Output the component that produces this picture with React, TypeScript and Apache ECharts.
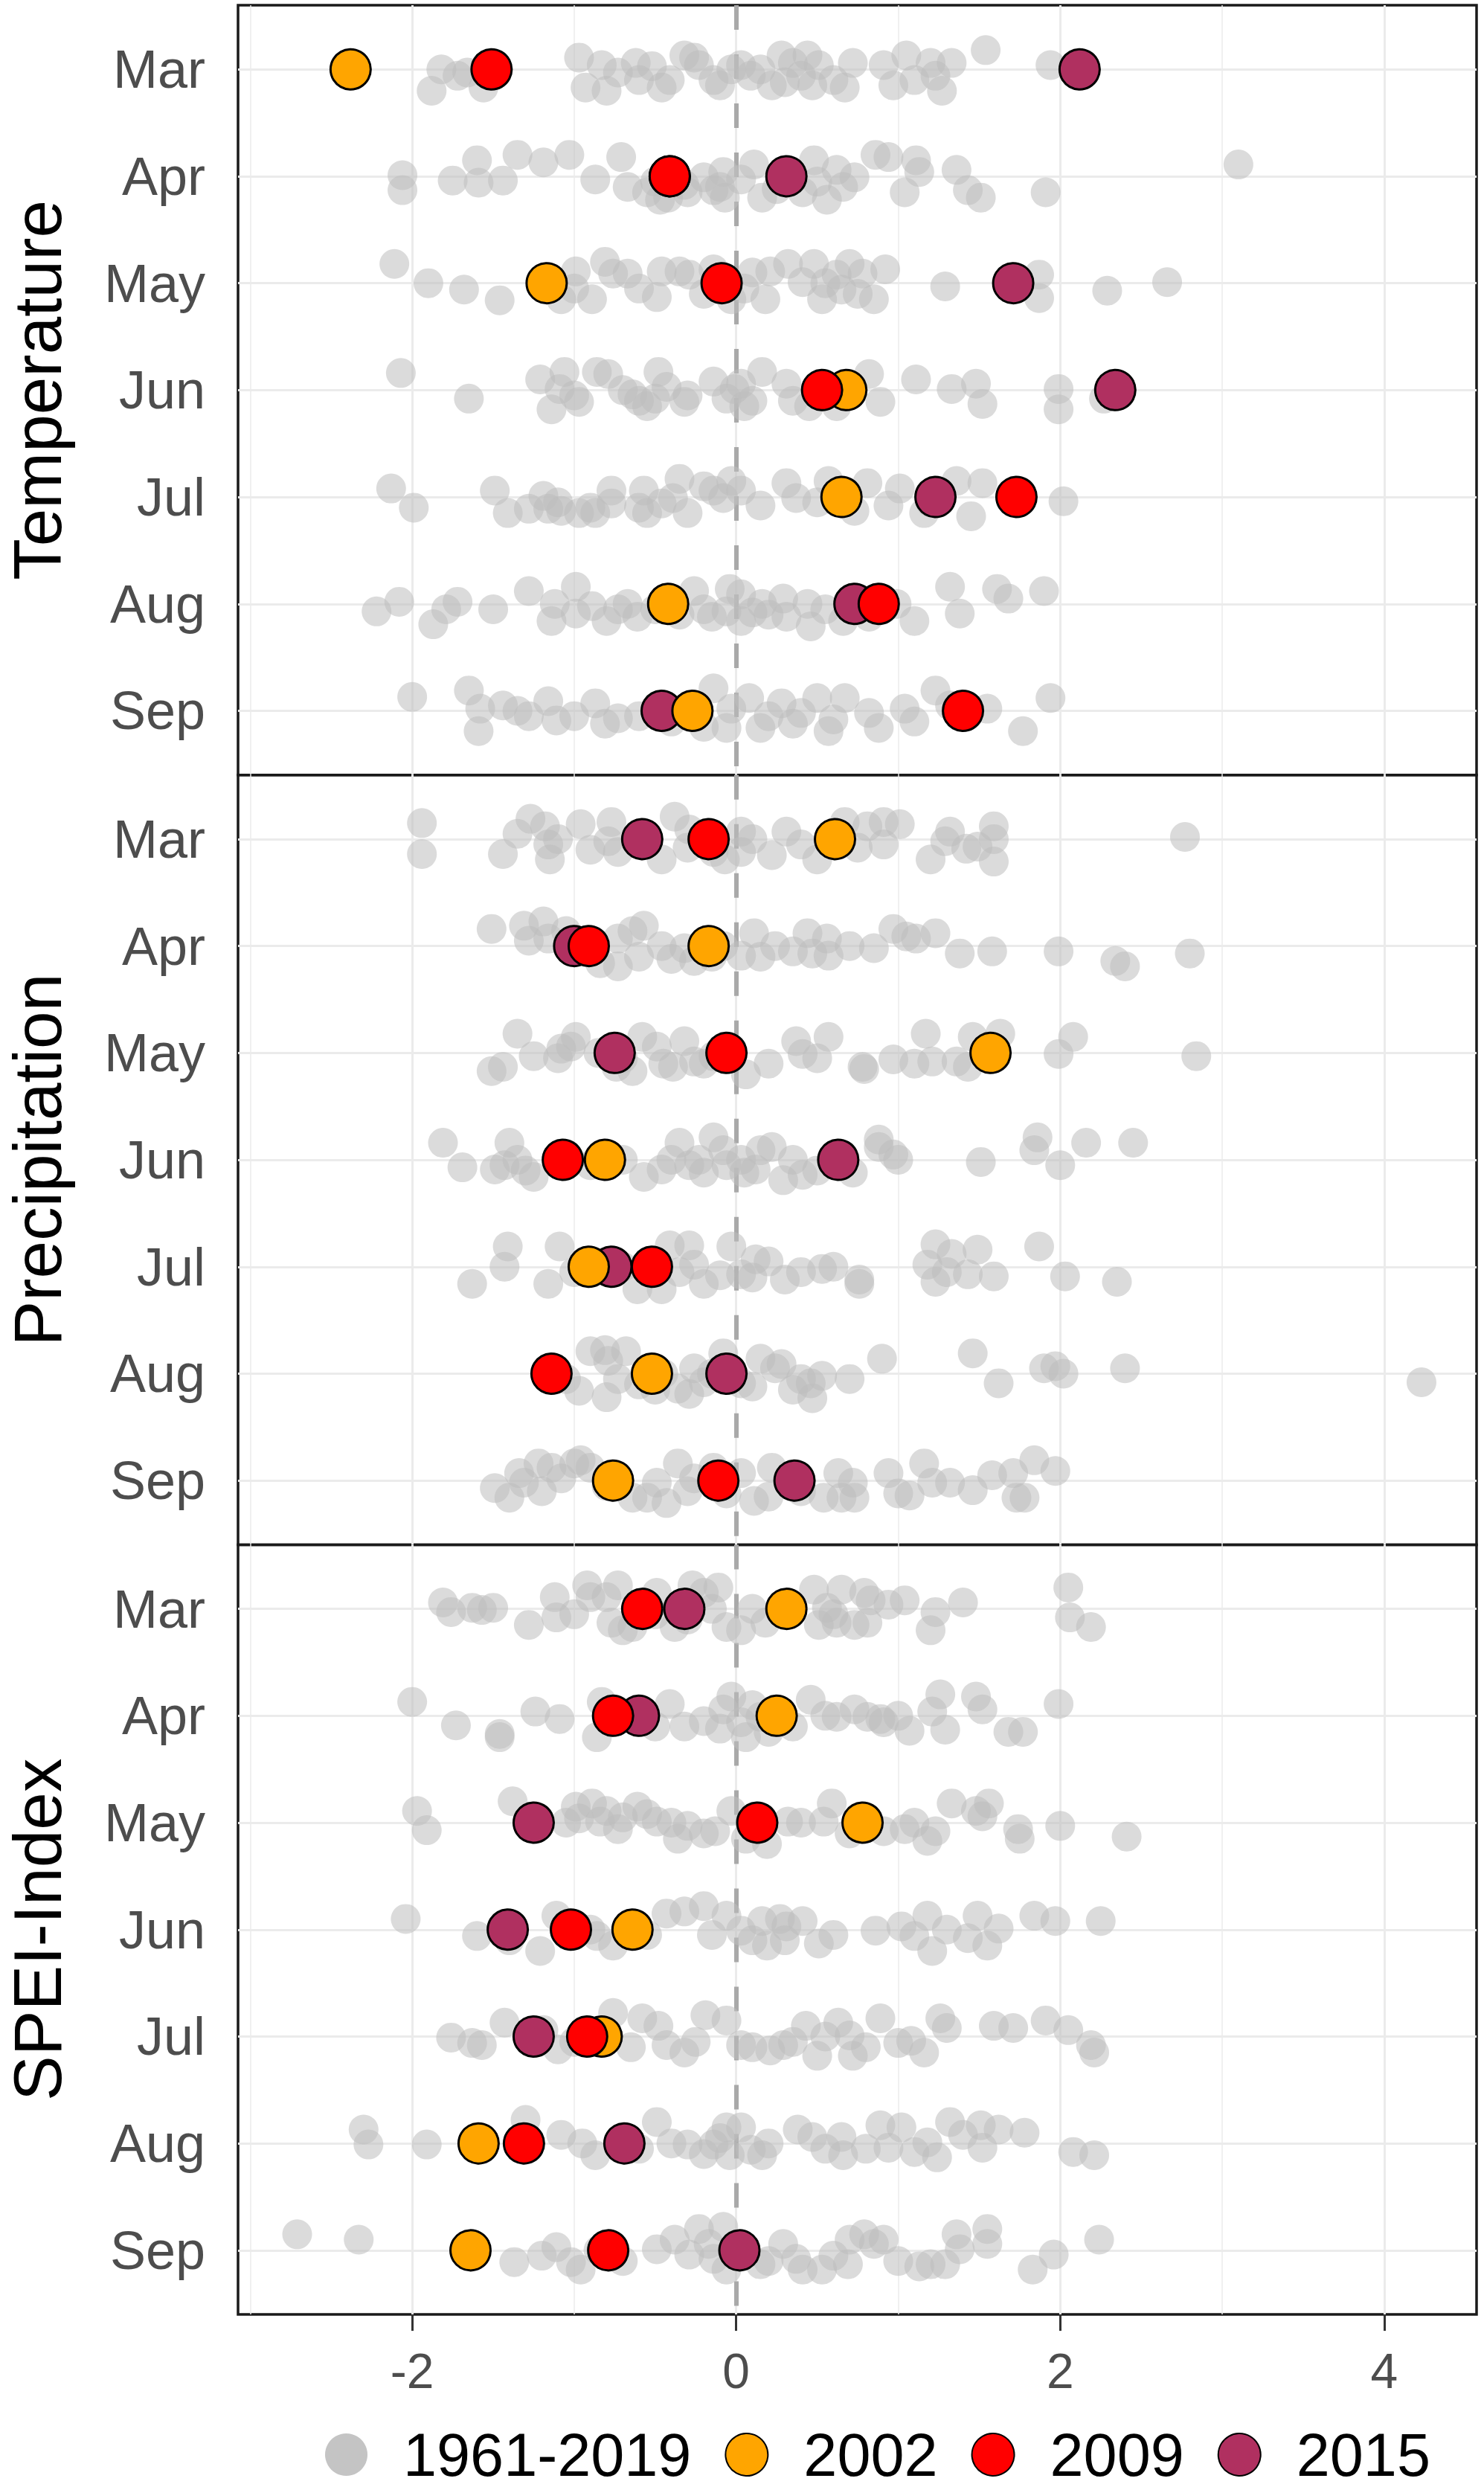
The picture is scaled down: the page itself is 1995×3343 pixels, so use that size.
import React, { useEffect, useRef } from "react";
import * as echarts from "echarts";

const months = ["Mar", "Apr", "May", "Jun", "Jul", "Aug", "Sep"];
const panelNames = ["Temperature", "Precipitation", "SPEI-Index"];
const xTicks = [-2, 0, 2, 4];
const xMinor = [-3, -1, 1, 3];
const legendNames = ["1961-2019", "2002", "2009", "2015"];

// grey points: per month rows of [value, vertical jitter]
const tempGrey = [
  [[-1.88,0.2],[-1.82,0.0],[-1.72,0.06],[-1.66,0.03],[-1.56,0.17],[-0.97,-0.11],[-0.93,0.17],[-0.83,-0.04],[-0.80,0.2],[-0.73,0.03],[-0.62,-0.06],[-0.60,0.1],[-0.52,-0.03],[-0.46,0.17],[-0.41,0.1],[-0.32,-0.13],[-0.26,-0.11],[-0.23,-0.04],[-0.14,0.1],[-0.03,0.0],[0.03,-0.04],[0.09,0.06],[0.22,0.15],[0.28,-0.13],[0.35,-0.06],[0.40,0.06],[0.44,-0.13],[0.47,0.15],[0.51,-0.04],[0.67,0.17],[0.72,-0.06],[0.91,-0.04],[0.97,0.15],[1.05,-0.13],[1.20,-0.06],[1.23,0.06],[1.27,0.2],[1.33,-0.06],[1.54,-0.18],[1.94,-0.04],[0.15,0.0],[0.6,0.1],[-0.1,0.15],[0.3,0.12],[1.1,0.1]],
  [[-2.06,-0.01],[-2.06,0.13],[-1.75,0.04],[-1.60,-0.15],[-1.59,0.06],[-1.44,0.04],[-1.35,-0.2],[-1.19,-0.13],[-1.03,-0.2],[-0.87,0.03],[-0.71,-0.18],[-0.67,0.1],[-0.55,0.15],[-0.47,0.22],[-0.42,0.2],[-0.32,0.08],[-0.20,0.01],[-0.14,0.13],[-0.08,-0.04],[-0.07,0.2],[0.03,0.03],[0.11,-0.11],[0.16,0.2],[0.41,0.15],[0.48,-0.15],[0.56,0.22],[0.62,-0.06],[0.66,0.1],[0.73,0.01],[0.86,-0.2],[0.94,-0.18],[1.04,0.15],[1.11,-0.15],[1.13,-0.04],[1.36,-0.06],[1.43,0.13],[1.51,0.2],[1.91,0.15],[3.10,-0.11],[-0.3,0.15],[-0.1,0.1],[0.25,0.12],[0.5,0.05],[-0.5,0.05]],
  [[-2.11,-0.18],[-1.90,0.0],[-1.68,0.06],[-1.46,0.16],[-1.08,0.15],[-0.99,-0.11],[-0.89,0.15],[-0.81,-0.2],[-0.76,-0.09],[-0.67,-0.09],[-0.49,0.13],[-0.46,-0.11],[-0.35,-0.11],[-0.29,-0.08],[-0.14,-0.13],[-0.03,0.15],[0.18,0.15],[0.21,-0.11],[0.32,-0.18],[0.41,-0.01],[0.48,-0.18],[0.53,0.15],[0.62,-0.08],[0.65,0.06],[0.70,-0.18],[0.78,-0.09],[0.85,0.15],[0.92,-0.13],[1.29,0.03],[1.87,-0.08],[1.87,0.14],[2.29,0.07],[2.66,-0.01],[-0.6,0.05],[-0.2,0.1],[0.05,0.05],[0.55,0.0],[0.75,0.1],[-1.0,0.05],[0.1,-0.1]],
  [[-2.07,-0.16],[-1.65,0.08],[-1.21,-0.1],[-1.14,0.18],[-1.09,-0.01],[-1.06,-0.17],[-0.97,0.11],[-0.86,-0.17],[-0.79,-0.15],[-0.64,0.04],[-0.60,0.1],[-0.55,0.15],[-0.48,-0.17],[-0.43,-0.03],[-0.32,0.11],[-0.14,-0.08],[-0.06,0.08],[-0.01,-0.01],[0.03,-0.06],[0.16,-0.17],[0.31,-0.06],[0.45,0.15],[0.62,0.15],[0.82,-0.15],[0.89,0.11],[1.11,-0.1],[1.33,-0.01],[1.48,-0.06],[1.52,0.13],[1.99,-0.01],[1.99,0.18],[2.27,0.08],[-0.7,0.0],[-0.3,0.05],[0.1,0.1],[-1.0,0.05],[0.35,0.1],[-0.5,0.08],[0.05,0.15]],
  [[-2.13,-0.08],[-1.99,0.1],[-1.49,-0.06],[-1.41,0.15],[-1.28,0.11],[-1.19,-0.01],[-1.16,0.11],[-1.08,0.13],[-0.97,0.15],[-0.87,0.15],[-0.77,-0.06],[-0.77,0.06],[-0.57,-0.06],[-0.55,0.15],[-0.46,0.06],[-0.39,0.01],[-0.35,-0.17],[-0.30,0.15],[-0.20,-0.1],[-0.14,-0.06],[-0.08,0.01],[-0.03,-0.15],[0.03,-0.06],[0.15,0.08],[0.31,-0.13],[0.37,0.01],[0.57,-0.15],[0.73,0.13],[0.81,-0.13],[0.94,0.08],[1.01,-0.08],[1.16,0.15],[1.36,-0.15],[1.45,0.18],[1.52,-0.13],[2.02,0.04],[-1.1,0.05],[-0.6,0.1],[0.5,0.05],[1.2,0.05],[-0.9,0.1]],
  [[-2.22,0.07],[-2.08,-0.02],[-1.87,0.19],[-1.79,0.05],[-1.72,-0.02],[-1.50,0.05],[-1.28,-0.12],[-1.14,0.16],[-1.12,0.0],[-0.99,-0.16],[-0.99,0.09],[-0.89,0.02],[-0.80,0.16],[-0.73,0.05],[-0.67,0.0],[-0.61,0.12],[-0.26,-0.12],[-0.20,0.05],[-0.06,0.07],[-0.04,-0.14],[0.03,-0.09],[0.03,0.16],[0.16,0.0],[0.29,-0.05],[0.31,0.12],[0.44,0.0],[0.46,0.21],[0.66,0.16],[0.82,0.12],[0.99,0.0],[1.10,0.16],[1.32,-0.16],[1.38,0.09],[1.61,-0.14],[1.68,-0.05],[1.90,-0.12],[-0.5,0.05],[-0.35,0.1],[0.1,0.08],[0.55,0.05],[-0.15,0.12],[0.2,0.1]],
  [[-2.0,-0.13],[-1.65,-0.19],[-1.59,0.19],[-1.58,-0.02],[-1.44,-0.05],[-1.35,0.0],[-1.28,0.05],[-1.16,-0.09],[-1.11,0.09],[-0.87,-0.07],[-0.81,0.12],[-0.73,0.07],[-0.60,0.05],[-0.40,0.1],[-0.20,0.15],[-0.14,-0.21],[-0.06,0.16],[-0.03,-0.02],[0.08,-0.12],[0.15,0.16],[0.28,-0.07],[0.35,0.12],[0.40,0.02],[0.50,-0.12],[0.57,0.19],[0.67,-0.12],[0.82,0.02],[0.88,0.16],[1.04,-0.02],[1.23,-0.19],[1.32,-0.05],[1.55,-0.02],[1.77,0.19],[1.94,-0.12],[-1.0,0.05],[-0.5,0.0],[0.2,0.05],[0.6,0.08],[1.1,0.1],[-0.3,0.0]],
];

const precGrey = [
  [[-1.94,-0.15],[-1.94,0.14],[-1.44,0.14],[-1.35,-0.05],[-1.27,-0.19],[-1.18,-0.12],[-1.16,0.05],[-1.15,0.19],[-0.96,-0.14],[-0.79,0.02],[-0.77,-0.16],[-0.73,0.12],[-0.46,0.19],[-0.38,-0.21],[-0.29,-0.09],[-0.14,0.12],[-0.07,0.19],[0.03,-0.07],[0.03,0.12],[0.22,0.15],[0.31,-0.07],[0.50,0.19],[0.67,-0.16],[0.81,-0.12],[0.91,-0.16],[0.91,0.05],[1.01,-0.14],[1.20,0.19],[1.29,0.02],[1.32,-0.07],[1.42,0.09],[1.49,0.07],[1.59,-0.12],[1.59,0.21],[1.59,0.0],[2.77,-0.02],[-1.1,0.0],[-0.6,0.05],[-0.3,0.08],[0.1,0.0],[0.4,0.05],[0.75,0.08],[-0.9,0.1]],
  [[-1.51,-0.16],[-1.31,-0.19],[-1.28,-0.05],[-1.19,-0.23],[-1.16,-0.07],[-1.05,-0.14],[-0.84,0.16],[-0.73,0.19],[-0.73,-0.07],[-0.64,-0.14],[-0.57,-0.19],[-0.46,0.0],[-0.32,0.02],[-0.26,0.14],[-0.08,0.0],[0.03,0.09],[0.11,-0.12],[0.24,0.0],[0.44,-0.12],[0.47,0.07],[0.56,-0.07],[0.57,0.09],[0.85,0.02],[0.97,-0.16],[1.05,-0.09],[1.11,-0.07],[1.23,-0.12],[1.38,0.07],[1.58,0.05],[1.99,0.05],[2.34,0.14],[2.40,0.19],[2.80,0.07],[-0.9,0.05],[-0.6,0.1],[-0.4,0.12],[0.15,0.1],[0.35,0.05],[-0.15,0.1],[0.7,0.0]],
  [[-1.51,0.17],[-1.44,0.13],[-1.35,-0.18],[-1.25,0.03],[-1.08,-0.04],[-1.02,-0.06],[-0.99,-0.15],[-0.74,0.13],[-0.64,0.17],[-0.58,-0.15],[-0.49,-0.06],[-0.39,0.13],[-0.32,-0.11],[-0.26,0.08],[-0.14,0.03],[0.06,0.2],[0.37,-0.11],[0.41,0.01],[0.57,-0.15],[0.78,0.13],[0.79,0.15],[0.97,0.06],[1.17,-0.18],[1.21,0.08],[1.36,0.08],[1.43,0.13],[1.46,-0.15],[1.63,-0.18],[1.99,0.01],[2.08,-0.15],[2.84,0.03],[-1.1,0.05],[-0.85,0.0],[-0.2,0.1],[0.2,0.1],[0.5,0.05],[-0.45,0.1],[1.1,0.1],[-0.7,0.05]],
  [[-1.81,-0.16],[-1.69,0.07],[-1.49,0.09],[-1.43,0.05],[-1.40,-0.16],[-1.35,0.0],[-1.25,0.16],[-0.70,0.0],[-0.57,0.16],[-0.46,0.09],[-0.35,-0.16],[-0.29,0.05],[-0.23,0.0],[-0.14,-0.21],[-0.08,-0.09],[-0.06,0.05],[0.03,0.0],[0.12,0.09],[0.15,-0.09],[0.22,-0.12],[0.29,0.19],[0.41,0.14],[0.72,0.12],[0.88,-0.19],[0.88,-0.12],[0.97,-0.05],[1.51,0.02],[1.84,-0.09],[1.86,-0.21],[2.00,0.05],[2.16,-0.16],[2.45,-0.16],[-1.3,0.1],[-0.9,0.05],[-0.4,0.0],[0.05,0.12],[0.5,0.1],[0.35,0.0],[-0.2,0.12],[1.0,0.0]],
  [[-1.63,0.16],[-1.43,0.0],[-1.41,-0.19],[-1.16,0.16],[-1.09,-0.19],[-0.61,0.21],[-0.46,0.21],[-0.41,-0.2],[-0.29,-0.2],[-0.26,-0.02],[-0.20,0.16],[-0.03,-0.19],[0.03,0.07],[0.12,-0.07],[0.40,0.05],[0.53,0.02],[0.76,0.12],[0.76,0.16],[1.18,-0.02],[1.23,-0.21],[1.23,0.14],[1.33,-0.12],[1.43,0.07],[1.49,-0.16],[1.59,0.09],[1.87,-0.19],[2.03,0.09],[2.35,0.14],[-1.0,0.05],[-0.7,0.0],[-0.35,0.05],[0.1,0.1],[0.2,-0.05],[0.3,0.12],[-0.1,0.08],[0.6,0.0],[1.3,0.05]],
  [[-0.97,0.16],[-0.90,-0.21],[-0.81,-0.22],[-0.80,0.22],[-0.79,-0.12],[-0.73,0.05],[-0.68,-0.21],[-0.36,0.14],[-0.29,0.19],[-0.26,-0.05],[-0.08,-0.19],[0.03,0.09],[0.15,-0.14],[0.24,-0.05],[0.28,-0.09],[0.40,0.05],[0.46,0.09],[0.47,0.23],[0.53,0.02],[0.90,-0.14],[1.46,-0.19],[1.62,0.09],[1.90,-0.05],[1.97,-0.07],[2.02,0.0],[2.40,-0.05],[4.23,0.08],[-1.05,0.05],[-0.6,0.1],[-0.45,0.0],[-0.2,0.08],[0.1,0.12],[-0.15,0.0],[0.7,0.05],[0.35,0.15],[-0.5,0.15]],
  [[-1.49,0.07],[-1.40,0.16],[-1.34,-0.07],[-1.31,0.02],[-1.22,-0.16],[-1.14,-0.12],[-1.08,-0.02],[-1.00,-0.16],[-0.96,-0.19],[-0.90,-0.12],[-0.64,0.16],[-0.55,0.16],[-0.49,0.02],[-0.43,0.21],[-0.36,-0.16],[-0.26,-0.02],[-0.14,-0.12],[-0.06,0.12],[0.03,-0.07],[0.11,0.19],[0.22,-0.12],[0.34,0.05],[0.54,0.16],[0.63,-0.07],[0.65,0.16],[0.72,0.02],[0.73,0.16],[0.94,-0.07],[1.00,0.12],[1.07,0.14],[1.16,-0.16],[1.21,0.02],[1.32,0.02],[1.46,0.09],[1.58,-0.05],[1.71,-0.07],[1.73,0.16],[1.78,0.16],[1.84,-0.19],[1.97,-0.09],[-0.8,0.05],[-0.3,0.1],[0.4,0.1],[-1.2,0.1],[0.2,0.15]],
];

const speiGrey = [
  [[-1.81,-0.06],[-1.76,0.03],[-1.63,-0.01],[-1.57,0.01],[-1.50,-0.01],[-1.28,0.15],[-1.12,-0.11],[-1.11,0.08],[-0.92,-0.22],[-0.90,-0.11],[-0.80,-0.11],[-0.77,0.13],[-0.73,-0.22],[-0.70,0.2],[-0.64,0.17],[-0.49,-0.15],[-0.38,0.17],[-0.27,-0.22],[-0.20,-0.15],[-0.11,-0.2],[-0.06,0.17],[0.03,0.2],[0.18,0.13],[0.48,-0.18],[0.51,0.15],[0.56,-0.01],[0.62,0.13],[0.65,-0.18],[0.73,0.15],[0.79,-0.15],[0.81,0.13],[0.83,-0.08],[0.94,-0.04],[1.04,-0.08],[1.20,0.2],[1.23,0.03],[1.40,-0.06],[2.05,-0.2],[2.06,0.08],[2.19,0.17],[-1.0,0.05],[-0.5,0.05],[-0.3,0.1],[0.1,0.0],[0.3,0.05],[0.6,0.05],[-0.15,0.0]],
  [[-2.0,-0.13],[-1.73,0.09],[-1.46,0.17],[-1.46,0.2],[-1.24,-0.04],[-1.09,0.03],[-0.86,0.2],[-0.83,-0.13],[-0.41,-0.11],[-0.32,0.1],[-0.08,-0.06],[-0.03,-0.18],[0.03,0.06],[0.06,0.2],[0.15,0.01],[0.46,-0.15],[0.62,0.01],[0.73,-0.06],[0.81,0.01],[0.89,0.03],[0.91,0.06],[1.07,0.14],[1.21,-0.04],[1.26,-0.2],[1.29,0.13],[1.48,-0.18],[1.52,-0.06],[1.68,0.15],[1.77,0.15],[1.99,-0.11],[-0.5,0.1],[-0.2,0.05],[0.1,-0.1],[0.35,0.1],[0.55,0.0],[0.2,0.15],[-0.1,0.12],[1.0,0.0]],
  [[-1.97,-0.11],[-1.91,0.07],[-1.38,-0.2],[-0.99,-0.15],[-0.97,-0.04],[-0.89,-0.18],[-0.84,-0.01],[-0.80,-0.11],[-0.73,0.06],[-0.61,-0.15],[-0.55,-0.08],[-0.49,-0.01],[-0.36,0.15],[-0.30,0.03],[-0.13,0.08],[-0.03,-0.11],[0.06,0.15],[0.19,0.2],[0.32,-0.01],[0.54,-0.01],[0.59,-0.18],[0.91,0.08],[1.04,0.06],[1.18,0.17],[1.23,0.08],[1.33,-0.18],[1.48,-0.11],[1.52,-0.06],[1.56,-0.18],[1.74,0.06],[1.75,0.15],[2.00,0.03],[2.41,0.13],[-0.7,-0.05],[-0.4,0.0],[-0.2,0.1],[0.4,0.0],[0.7,0.1],[-1.05,0.0],[1.1,0.0]],
  [[-2.04,-0.1],[-1.60,0.06],[-1.21,0.2],[-1.11,-0.13],[-0.86,0.06],[-0.76,0.15],[-0.43,-0.15],[-0.32,-0.17],[-0.20,-0.22],[-0.06,-0.13],[0.03,0.01],[0.16,-0.08],[0.19,0.15],[0.27,-0.1],[0.31,-0.03],[0.41,-0.08],[0.51,0.13],[0.86,0.01],[1.02,-0.03],[1.10,0.06],[1.18,-0.13],[1.21,0.2],[1.43,0.08],[1.49,-0.13],[1.55,0.15],[1.62,-0.01],[1.84,-0.13],[1.97,-0.08],[2.25,-0.08],[-1.4,0.1],[-0.9,0.0],[-0.55,0.05],[0.1,0.1],[0.6,0.05],[0.3,0.1],[-0.15,0.05],[1.3,0.0]],
  [[-1.76,0.01],[-1.63,0.06],[-1.57,0.08],[-1.43,-0.13],[-1.19,-0.06],[-0.76,-0.22],[-0.58,-0.17],[-0.48,-0.1],[-0.43,0.08],[-0.32,0.15],[-0.19,-0.2],[-0.06,-0.15],[0.03,0.08],[0.21,0.13],[0.29,0.08],[0.43,-0.1],[0.50,0.18],[0.63,-0.13],[0.70,-0.01],[0.72,0.18],[0.89,-0.17],[1.00,0.06],[1.08,0.04],[1.16,0.15],[1.26,-0.17],[1.30,-0.08],[1.59,-0.1],[1.71,-0.08],[1.91,-0.15],[2.05,-0.06],[2.19,0.08],[2.21,0.15],[-1.0,0.05],[-0.65,0.1],[-0.25,0.05],[0.1,0.1],[0.35,0.05],[0.8,0.1],[-1.1,0.12],[0.55,0.0]],
  [[-2.30,-0.13],[-2.27,0.01],[-1.91,0.01],[-1.30,-0.22],[-1.08,-0.08],[-0.87,0.11],[-0.49,-0.2],[-0.30,0.01],[-0.14,0.01],[-0.06,-0.15],[-0.04,0.11],[0.03,-0.15],[0.09,0.06],[0.16,0.11],[0.38,-0.13],[0.47,-0.06],[0.65,-0.06],[0.66,0.11],[0.89,-0.17],[0.94,0.04],[1.02,-0.15],[1.18,-0.01],[1.24,0.13],[1.32,-0.2],[1.40,-0.08],[1.51,-0.17],[1.52,0.04],[1.62,-0.13],[1.78,-0.1],[2.08,0.08],[2.21,0.11],[-0.6,0.05],[-0.4,0.0],[-0.2,0.1],[0.2,0.0],[0.55,0.05],[-0.95,0.0],[0.8,0.05],[1.1,0.08],[-0.1,-0.05]],
  [[-2.71,-0.15],[-2.33,-0.1],[-1.37,0.11],[-1.11,-0.03],[-1.02,0.11],[-0.96,0.18],[-0.49,-0.01],[-0.38,-0.1],[-0.29,0.04],[-0.23,-0.2],[-0.17,-0.06],[-0.14,0.08],[-0.08,-0.22],[-0.06,0.18],[0.15,0.13],[0.29,-0.06],[0.37,0.08],[0.41,0.18],[0.53,0.18],[0.69,0.13],[0.70,-0.1],[0.79,-0.15],[0.85,-0.06],[0.91,-0.1],[1.13,0.15],[1.20,0.13],[1.29,0.13],[1.36,-0.15],[1.38,-0.01],[1.55,-0.2],[1.55,-0.06],[1.83,0.18],[1.96,0.04],[2.24,-0.1],[-1.2,0.05],[-0.7,0.1],[0.05,0.0],[0.2,0.1],[0.6,0.05],[1.0,0.1],[-0.85,0.0]],
];

// highlighted years, one value per month (Mar..Sep)
const temp2002 = [-2.38, -0.41, -1.17, 0.68, 0.65, -0.42, -0.27];
const temp2009 = [-1.51, -0.41, -0.09, 0.53, 1.73, 0.88, 1.40];
const temp2015 = [2.12, 0.31, 1.71, 2.34, 1.23, 0.73, -0.46];
const prec2002 = [0.61, -0.17, 1.57, -0.81, -0.91, -0.52, -0.76];
const prec2009 = [-0.17, -0.91, -0.06, -1.07, -0.52, -1.14, -0.11];
const prec2015 = [-0.58, -1.0, -0.75, 0.63, -0.77, -0.06, 0.36];
const spei2002 = [0.31, 0.25, 0.78, -0.64, -0.83, -1.59, -1.64];
const spei2009 = [-0.58, -0.76, 0.13, -1.02, -0.92, -1.31, -0.79];
const spei2015 = [-0.32, -0.6, -1.25, -1.41, -1.25, -0.69, 0.02];

const FONT = "'Liberation Sans', Arial, sans-serif";
const GREY = "#bebebe";
const C2002 = "#FFA500";
const C2009 = "#FF0000";
const C2015 = "#B03060";

function buildOption() {
  const greyRows = [tempGrey, precGrey, speiGrey];
  const y2002 = [temp2002, prec2002, spei2002];
  const y2009 = [temp2009, prec2009, spei2009];
  const y2015 = [temp2015, prec2015, spei2015];

  const panelTop = 7;
  const panelH = 1034.7;
  const grids: any[] = [];
  const xAxes: any[] = [];
  const yAxes: any[] = [];
  const series: any[] = [];

  const gridLine = (w: number) => ({ color: "#ebebeb", width: w, type: "solid" });

  for (let i = 0; i < 3; i++) {
    const isBottom = i === 2;
    grids.push({
      left: 320,
      right: 10,
      top: panelTop + i * panelH,
      height: panelH,
      show: true,
      borderColor: "#1a1a1a",
      borderWidth: 3.5,
      backgroundColor: "rgba(0,0,0,0)",
      containLabel: false,
      outerBoundsMode: "none",
    });
    xAxes.push({
      type: "value",
      gridIndex: i,
      min: -3.075,
      max: 4.57,
      axisLine: { show: false },
      splitLine: { show: false },
      axisTick: {
        show: isBottom,
        customValues: xTicks,
        length: 22,
        lineStyle: { color: "#333333", width: 3 },
      },
      axisLabel: {
        show: isBottom,
        customValues: xTicks,
        fontSize: 66,
        fontFamily: FONT,
        color: "#4d4d4d",
        margin: 43,
        formatter: (v: number) => String(v),
      },
    });
    yAxes.push({
      type: "value",
      gridIndex: i,
      inverse: true,
      min: 0.4,
      max: 7.6,
      name: panelNames[i],
      nameLocation: "middle",
      nameRotate: 90,
      nameGap: 224,
      nameTextStyle: { fontSize: 91, fontFamily: FONT, color: "#000000" },
      axisLine: { show: false },
      splitLine: { show: false },
      axisTick: {
        show: true,
        customValues: months.map((_, k) => k + 1),
        length: 22,
        lineStyle: { color: "#333333", width: 3 },
      },
      axisLabel: {
        show: true,
        customValues: months.map((_, k) => k + 1),
        fontSize: 72,
        fontFamily: FONT,
        color: "#4d4d4d",
        margin: 44,
        formatter: (v: number) => months[Math.round(v) - 1] || "",
      },
    });

    const greyData: number[][] = [];
    greyRows[i].forEach((row, k) => {
      row.forEach(([x, j]) => greyData.push([x, k + 1 + j]));
    });

    series.push({
      type: "scatter",
      name: legendNames[0],
      xAxisIndex: i,
      yAxisIndex: i,
      symbol: "circle",
      symbolSize: 40,
      itemStyle: { color: GREY, opacity: 0.55 },
      emphasis: { disabled: true },
      z: 2,
      data: greyData,
      markLine: {
        silent: true,
        symbol: ["none", "none"],
        label: { show: false },
        animation: false,
        z: 1,
        emphasis: { disabled: true },
        data: [
          ...xMinor.map((v) => ({ xAxis: v, lineStyle: gridLine(1.5) })),
          ...xTicks.map((v) => ({ xAxis: v, lineStyle: gridLine(3) })),
          ...months.map((_, k) => ({ yAxis: k + 1, lineStyle: gridLine(3) })),
          { xAxis: 0, lineStyle: { color: "#a9a9a9", width: 6, type: [33, 33] } },
        ],
      },
    });

    const colored = [
      { name: "2015", vals: y2015[i], color: C2015, z: 3 },
      { name: "2002", vals: y2002[i], color: C2002, z: 4 },
      { name: "2009", vals: y2009[i], color: C2009, z: 5 },
    ];
    colored.forEach((c) => {
      series.push({
        type: "scatter",
        name: c.name,
        xAxisIndex: i,
        yAxisIndex: i,
        symbol: "circle",
        symbolSize: 54,
        z: c.z,
        emphasis: { disabled: true },
        itemStyle: { color: c.color, borderColor: "#000000", borderWidth: 3, opacity: 1 },
        data: c.vals.map((v, k) => [v, k + 1]),
      });
    });
  }

  return {
    animation: false,
    backgroundColor: "#ffffff",
    grid: grids,
    xAxis: xAxes,
    yAxis: yAxes,
    series,
    legend: {
      show: true,
      orient: "horizontal",
      left: 437,
      top: 3259,
      padding: 0,
      itemWidth: 57,
      itemHeight: 57,
      itemGap: 45,
      icon: "circle",
      selectedMode: false,
      textStyle: {
        fontSize: 81,
        fontFamily: FONT,
        color: "#000000",
        padding: [0, 0, 0, 43],
        lineHeight: 81,
      },
      data: [
        { name: legendNames[0], itemStyle: { color: "#c4c4c4", opacity: 1, borderWidth: 0 } },
        { name: legendNames[1] },
        { name: legendNames[2] },
        { name: legendNames[3] },
      ],
    },
  };
}

export default function App() {
  const ref = useRef<HTMLDivElement>(null);
  useEffect(() => {
    document.body.style.margin = "0";
    document.body.style.overflow = "hidden";
    if (!ref.current) return;
    const chart = echarts.init(ref.current, null, { renderer: "svg" });
    chart.setOption(buildOption() as any);
    return () => chart.dispose();
  }, []);
  return <div ref={ref} style={{ width: 1995, height: 3343 }} />;
}
